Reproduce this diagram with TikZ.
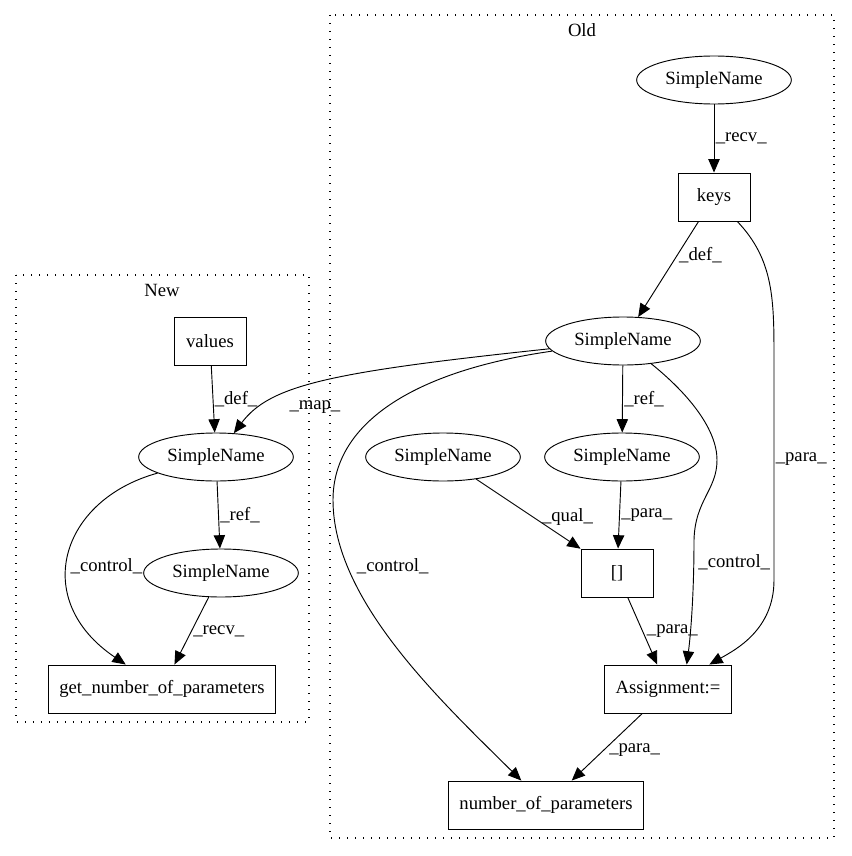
\documentclass[tikz,border=0pt]{standalone}
\usepackage{fontspec}
\setmainfont{Liberation Serif}
\usetikzlibrary{arrows.meta,
                shapes.geometric}

\begin{document}
\begin{tikzpicture}[x=0.75pt, y=-0.75pt,
    every node/.style={font=\fontsize{14pt}{16pt}\selectfont},
    sname/.style={draw, ellipse, minimum width=116pt, minimum height=36pt, inner sep=0pt, line width=0.7pt},
    sbox/.style={draw, rectangle, minimum width=54pt, minimum height=36pt, inner xsep=8pt, line width=0.7pt},
    edge/.style={-{Triangle[length=10pt, width=8.5pt]}, line width=0.7pt},
    lbl/.style={right, inner sep=1pt},
    cluster/.style={dash pattern=on 0.8pt off 5.2pt, line width=0.8pt}]
    \useasboundingbox (0,0) rectangle (851,856);

    % clusters
    \draw[cluster] (330,15) rectangle (834,838);
    \node (oldname) at (582,30) {Old};
    \draw[cluster] (16,275) rectangle (309,722);
    \node (newname) at (162,290) {New};

    % old side
    \node[sname] (oldrecv) at (714,80) {SimpleName};
    \node[sbox] (keys) at (714,197) {keys};
    \node[sname] (olddef) at (623,341) {SimpleName};
    \node[sname] (oldqual) at (443,457) {SimpleName};
    \node[sname] (oldref) at (622,457) {SimpleName};
    \node[sbox] (idx) at (617,573) {[]};
    \node[sbox] (assign) at (668,689) {Assignment:=};
    \node[sbox] (nop) at (546,805) {number\_of\_parameters};

    % new side
    \node[sbox] (values) at (210,341) {values};
    \node[sname] (newdef) at (216,457) {SimpleName};
    \node[sname] (newref) at (221,573) {SimpleName};
    \node[sbox] (gnop) at (162,689) {get\_number\_of\_parameters};

    \draw[edge] (oldrecv) -- node[lbl] {\_recv\_} (keys);
    \draw[edge] (keys) -- node[lbl, pos=0.35] {\_def\_} (olddef);
    \draw[edge] (keys) .. controls (774,260) and (774,300) .. (774,360)
        -- node[lbl, pos=0.45] {\_para\_} (774,580)
        .. controls (774,630) and (735,650) .. ([xshift=31pt]assign.north);
    \draw[edge] (olddef) -- node[lbl] {\_ref\_} (oldref);
    \draw[edge] (olddef) .. controls (330,372) and (270,385) .. (newdef)
        node[lbl, pos=0.65, anchor=north west, inner sep=2pt, yshift=-3pt] {\_map\_};
    \draw[edge] (olddef) .. controls (420,370) and (333,420) .. (333,500)
        .. controls (333,600) and (440,700) .. (nop)
        node[lbl, pos=0.22, xshift=6pt] {\_control\_};
    \draw[edge] (olddef) .. controls (690,395) and (717,430) .. (717,460)
        .. controls (717,490) and (695,500) .. (694,540)
        node[lbl, xshift=2pt, yshift=-17pt] {\_control\_}
        .. controls (694,600) and (690,640) .. ([xshift=14pt]assign.north);
    \draw[edge] (oldqual) -- node[lbl, pos=0.55, xshift=5pt] {\_qual\_} (idx);
    \draw[edge] (oldref) -- node[lbl] {\_para\_} (idx);
    \draw[edge] (idx) -- node[lbl, xshift=2pt] {\_para\_} (assign);
    \draw[edge] (assign) -- node[lbl, pos=0.55, xshift=3pt] {\_para\_} (nop);

    \draw[edge] (values) -- node[lbl] {\_def\_} (newdef);
    \draw[edge] (newdef) -- node[lbl] {\_ref\_} (newref);
    \draw[edge] (newdef) .. controls (60,500) and (30,600) .. (gnop)
        node[lbl, pos=0.55, xshift=1pt] {\_control\_};
    \draw[edge] (newref) -- node[lbl] {\_recv\_} (gnop);
\end{tikzpicture}
\end{document}
